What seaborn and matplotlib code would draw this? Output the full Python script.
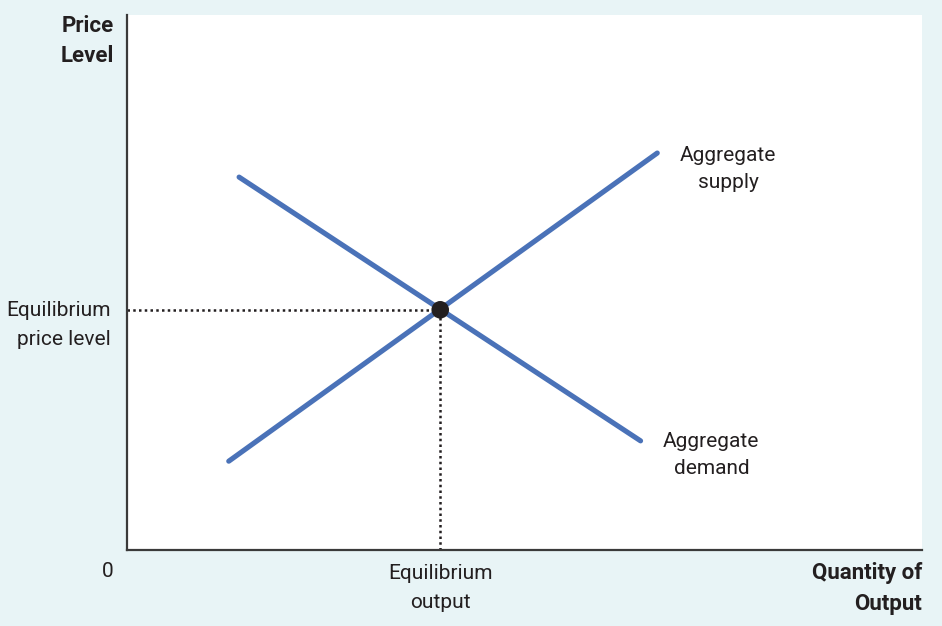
import matplotlib
matplotlib.use("Agg")
import matplotlib.pyplot as plt
import matplotlib.transforms as mtransforms
import pandas as pd
import seaborn as sns

# curve end points (quantity, price) on a 0-100 scale
as_q = [12.8, 66.7]
as_p = [16.6, 74.2]
ad_q = [14.1, 64.6]
ad_p = [69.7, 20.4]
eq_q = 39.4
eq_p = 44.9

curve_labels = ["Aggregate\nsupply", "Aggregate\ndemand"]
x_tick_labels = ["Equilibrium\noutput"]
y_tick_labels = ["Equilibrium\nprice level"]

sns.set_theme(style="white")
plt.rcParams["font.family"] = ["Roboto", "DejaVu Sans"]

bg = "#e8f4f6"
blue = "#4a72b8"
ink = "#231f20"
fs = 15
fs_bold = 16

df = pd.concat([
    pd.DataFrame({"q": as_q, "p": as_p, "curve": "AS"}),
    pd.DataFrame({"q": ad_q, "p": ad_p, "curve": "AD"}),
])

fig = plt.figure(figsize=(9.42, 6.26), dpi=100, facecolor=bg)
ax = fig.add_axes([127 / 942, 1 - 550 / 626, 795 / 942, 535 / 626])
ax.set_facecolor("white")

sns.lineplot(data=df, x="q", y="p", units="curve", estimator=None,
             color=blue, lw=3.7, sort=False, ax=ax, legend=False)

# dotted guides to equilibrium
ax.plot([0, eq_q], [eq_p, eq_p], color=ink, lw=1.8, ls=(0, (1, 1.3)),
        dash_capstyle="butt")
ax.plot([eq_q, eq_q], [0, eq_p], color=ink, lw=1.8, ls=(0, (1, 1.3)),
        dash_capstyle="butt")
sns.scatterplot(x=[eq_q], y=[eq_p], color=ink, s=160, ax=ax, zorder=5,
                edgecolor="none")

ax.set_xlim(0, 100)
ax.set_ylim(0, 100)
ax.set_xticks([eq_q])
ax.set_xticklabels(x_tick_labels, fontsize=fs, color=ink, linespacing=1.7)
ax.set_yticks([eq_p])
ax.set_yticklabels(y_tick_labels, fontsize=fs, color=ink, linespacing=1.7,
                   ha="right", va="top")
ax.tick_params(axis="y", length=0, pad=12)
ax.tick_params(axis="x", length=0, pad=10)
# first line of the y label sits on the dotted guide
shift = mtransforms.ScaledTranslation(0, 9 / 100, fig.dpi_scale_trans)
for lab in ax.get_yticklabels():
    lab.set_transform(lab.get_transform() + shift)
ax.set_xlabel("")
ax.set_ylabel("")

for side in ["top", "right"]:
    ax.spines[side].set_visible(False)
for side in ["left", "bottom"]:
    ax.spines[side].set_color("#3a3a3a")
    ax.spines[side].set_linewidth(1.6)

# curve labels
ax.text(75.6, 71.2, curve_labels[0], ha="center", va="center", fontsize=fs,
        color=ink, linespacing=1.55)
ax.text(73.5, 17.8, curve_labels[1], ha="center", va="center", fontsize=fs,
        color=ink, linespacing=1.55)

# axis titles
ax.text(-0.016, 1.0, "Price\nLevel", transform=ax.transAxes, ha="right",
        va="top", fontsize=fs_bold, fontweight="bold", color=ink,
        linespacing=1.5)
ax.text(1.0, -0.022, "Quantity of\nOutput", transform=ax.transAxes, ha="right",
        va="top", fontsize=fs_bold, fontweight="bold", color=ink,
        linespacing=1.55)
ax.text(-0.024, -0.022, "0", transform=ax.transAxes, ha="center", va="top",
        fontsize=fs, color=ink)

fig.savefig("out.png", dpi=100, facecolor=bg)
